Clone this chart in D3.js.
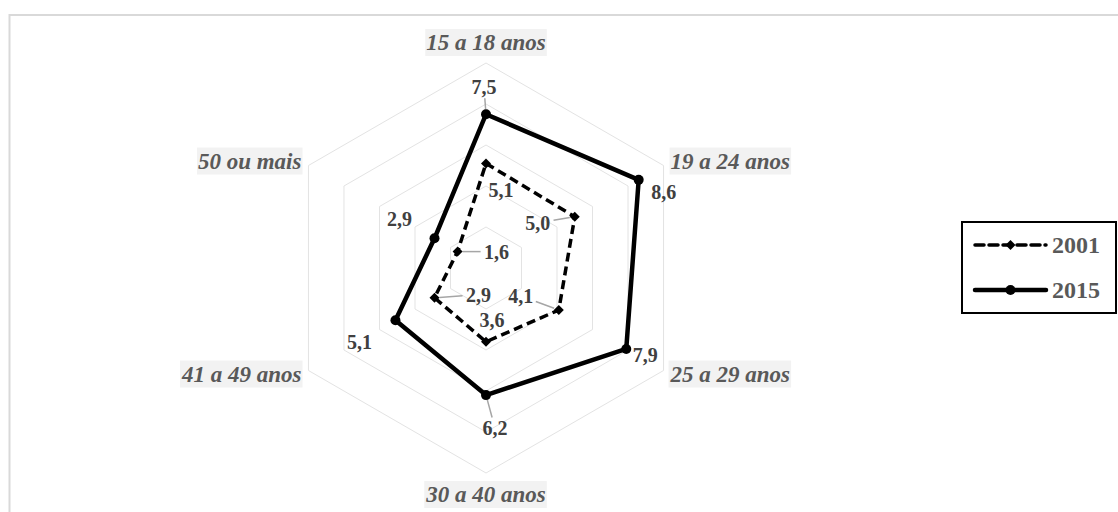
<!DOCTYPE html>
<html>
<head>
<meta charset="utf-8">
<script src="https://cdn.jsdelivr.net/npm/d3@7"></script>
<style>
  body { margin: 0; background: #fff; }
  svg { display: block; }
</style>
</head>
<body>
<div id="chart"></div>
<script>
// categories (clockwise from the top)
var categories = ["15 a 18 anos", "19 a 24 anos", "25 a 29 anos", "30 a 40 anos", "41 a 49 anos", "50 ou mais"];
var years = ["2001", "2015"];
var values2001 = [5.1, 5.0, 4.1, 3.6, 2.9, 1.6];
var values2015 = [7.5, 8.6, 7.9, 6.2, 5.1, 2.9];
var gridTicks = [2, 4, 6, 8, 10];

// data label placement (offset from the point, px) + leader line flag
var labelOffsets2001 = [[15, 27], [-37, 6], [-38, -14], [6, -22], [44, -3], [39, 0]];
var labelOffsets2015 = [[-2, -27], [25, 12], [19, 6], [9, 33], [-36, 22], [-35, -19]];
var leader2001 = [false, true, true, false, true, true];
var leader2015 = [true, false, false, true, false, false];
// category label offset from the outer vertex
var catOffsets = [[0, -21], [7, -5], [7, 3], [0, 21], [-7, 3], [-7, -5]];

var width = 1118, height = 512;
var cx = 486, cy = 268;
var serif = "'Liberation Serif', 'Times New Roman', serif";

var svg = d3.select("#chart").append("svg")
    .attr("width", width)
    .attr("height", height);

// chart area border
svg.append("rect")
    .attr("x", 9.5).attr("y", 15)
    .attr("width", width + 20).attr("height", height + 20)
    .attr("fill", "none")
    .attr("stroke", "#d9d9d9")
    .attr("stroke-width", 2);

var r = d3.scaleLinear().domain([0, 10]).range([0, 205]);
var angle = d3.scalePoint().domain(d3.range(categories.length + 1)).range([0, 2 * Math.PI]);

function pt(i, v) {
  var a = angle(i);
  return [cx + r(v) * Math.sin(a), cy - r(v) * Math.cos(a)];
}

var g = svg.append("g").attr("transform", "translate(" + cx + "," + cy + ")");

var radial = d3.lineRadial()
    .angle(function(d, i) { return angle(i); })
    .radius(function(d) { return r(d); })
    .curve(d3.curveLinearClosed);

// grid hexagons
g.selectAll(".grid")
  .data(gridTicks)
  .enter().append("path")
    .attr("class", "grid")
    .attr("d", function(t) { return radial(categories.map(function() { return t; })); })
    .attr("fill", "none")
    .attr("stroke", "#e3e3e3")
    .attr("stroke-width", 1);

// category labels with light background
var catG = svg.append("g");
categories.forEach(function(c, i) {
  var p = pt(i, 10);
  var off = catOffsets[i];
  var anchor = off[0] > 0 ? "start" : (off[0] < 0 ? "end" : "middle");
  var cg = catG.append("g");
  var bg = cg.append("rect").attr("fill", "#f2f2f2");
  var t = cg.append("text")
      .attr("x", p[0] + off[0])
      .attr("y", p[1] + off[1])
      .attr("dy", "0.35em")
      .attr("text-anchor", anchor)
      .attr("font-family", serif)
      .attr("font-size", 23)
      .attr("font-weight", "bold")
      .attr("font-style", "italic")
      .attr("fill", "#595959")
      .text(c);
  var bb = t.node().getBBox();
  bg.attr("x", bb.x - 1).attr("y", bb.y - 1)
    .attr("width", bb.width + 2).attr("height", bb.height + 2);
});

// series lines
var series = [
  {name: "2001", values: values2001, offsets: labelOffsets2001, leaders: leader2001, width: 3.5, dash: "9,5", marker: "diamond"},
  {name: "2015", values: values2015, offsets: labelOffsets2015, leaders: leader2015, width: 4.5, dash: null, marker: "circle"}
];

// square turned 45deg = Excel diamond marker
var diamond = d3.symbol().type(d3.symbolSquare).size(50);

series.forEach(function(s) {
  // leader lines first, so they sit under the markers
  s.values.forEach(function(v, i) {
    if (!s.leaders[i]) return;
    var p = pt(i, v);
    var lx = p[0] + s.offsets[i][0], ly = p[1] + s.offsets[i][1];
    var dx = lx - p[0], dy = ly - p[1];
    var len = Math.sqrt(dx * dx + dy * dy);
    var start = 5, stop = len - (Math.abs(dx) > Math.abs(dy) ? 16 : 11);
    svg.append("line")
      .attr("x1", p[0] + dx / len * start).attr("y1", p[1] + dy / len * start)
      .attr("x2", p[0] + dx / len * stop).attr("y2", p[1] + dy / len * stop)
      .attr("stroke", "#a6a6a6")
      .attr("stroke-width", 1.5);
  });

  g.append("path")
    .attr("d", radial(s.values))
    .attr("fill", "none")
    .attr("stroke", "#000")
    .attr("stroke-width", s.width)
    .attr("stroke-dasharray", s.dash)
    .attr("stroke-linejoin", "round");

  s.values.forEach(function(v, i) {
    var p = pt(i, v);
    if (s.marker == "circle") {
      svg.append("circle").attr("cx", p[0]).attr("cy", p[1]).attr("r", 5).attr("fill", "#000");
    } else {
      svg.append("path").attr("d", diamond())
        .attr("transform", "translate(" + p[0] + "," + p[1] + ") rotate(45)")
        .attr("fill", "#000");
    }
    svg.append("text")
      .attr("x", p[0] + s.offsets[i][0])
      .attr("y", p[1] + s.offsets[i][1])
      .attr("dy", "0.35em")
      .attr("text-anchor", "middle")
      .attr("font-family", serif)
      .attr("font-size", 20)
      .attr("font-weight", "bold")
      .attr("fill", "#404040")
      .text(d3.format(".1f")(v).replace(".", ","));
  });
});

// legend
var legend = svg.append("g").attr("transform", "translate(962,222)");
legend.append("rect")
    .attr("x", 0).attr("y", 0)
    .attr("width", 154).attr("height", 91)
    .attr("fill", "#fff")
    .attr("stroke", "#000")
    .attr("stroke-width", 2);

var li = legend.selectAll(".item")
  .data(series)
  .enter().append("g")
    .attr("class", "item")
    .attr("transform", function(d, i) { return "translate(0," + (23 + i * 45) + ")"; });

li.append("line")
    .attr("x1", 13).attr("x2", 84)
    .attr("stroke", "#000")
    .attr("stroke-width", function(d) { return d.width; })
    .attr("stroke-dasharray", function(d) { return d.dash; })
    .attr("stroke-linecap", "round");

li.each(function(d) {
  var sel = d3.select(this);
  if (d.marker == "circle") sel.append("circle").attr("cx", 48.5).attr("r", 5).attr("fill", "#000");
  else sel.append("path").attr("d", diamond()).attr("transform", "translate(48.5,0) rotate(45)").attr("fill", "#000");
});

li.append("text")
    .attr("x", 90)
    .attr("dy", "0.35em")
    .attr("font-family", serif)
    .attr("font-size", 24)
    .attr("font-weight", "bold")
    .attr("fill", "#595959")
    .text(function(d) { return d.name; });
</script>
</body>
</html>
